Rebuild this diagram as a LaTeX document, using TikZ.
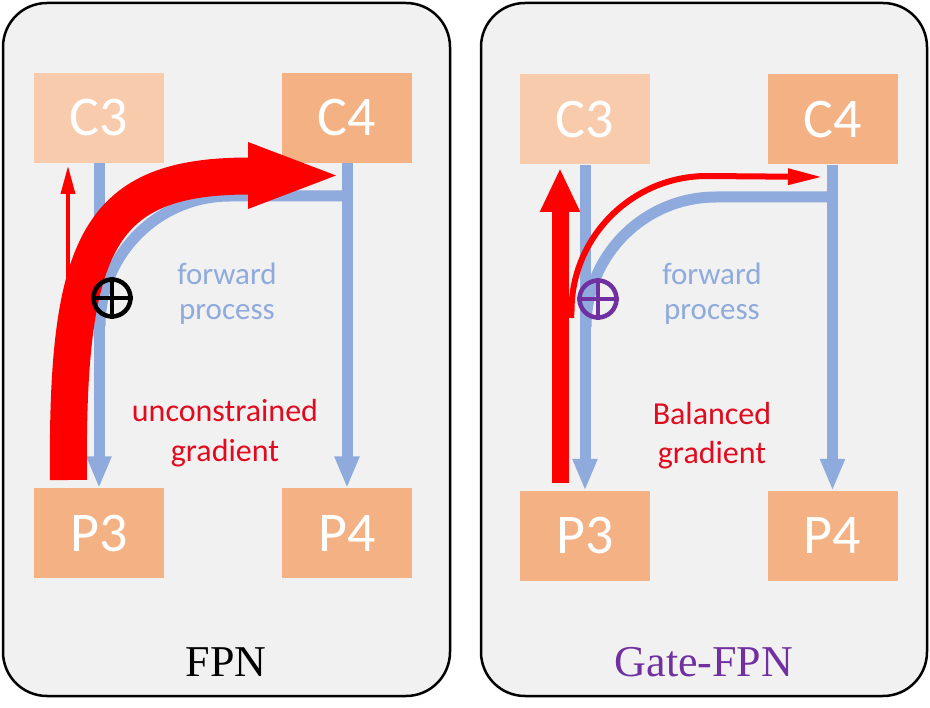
\documentclass[tikz,border=0pt]{standalone}
\usepackage{fontspec}
\setmainfont{Liberation Serif}
\newfontfamily\calib{Carlito}
\usetikzlibrary{arrows.meta}
\definecolor{panelgray}{HTML}{F1F1F1}
\definecolor{peach}{HTML}{F4B183}
\definecolor{lightpeach}{HTML}{F8CBAD}
\definecolor{fwdblue}{HTML}{8FAADC}
\definecolor{gradred}{RGB}{225,10,30}
\definecolor{gatepurple}{HTML}{7030A0}
\tikzset{
  panel/.style={draw=black, line width=2.5pt, fill=panelgray, rounded corners=44pt, inner sep=0},
  box/.style={rectangle, fill=peach, minimum width=130pt, minimum height=90pt, inner sep=0, text=white, font=\calib\fontsize{56}{60}\selectfont},
  lightbox/.style={box, fill=lightpeach},
  fwdline/.style={draw=fwdblue, line width=11pt},
  fwdarrow/.style={fwdline, -{Triangle[length=32pt,width=23pt]}},
  bluelbl/.style={text=fwdblue, font=\calib\fontsize{31}{36}\selectfont, inner sep=0, anchor=base},
  redlbl/.style={text=gradred, font=\calib\fontsize{32}{38}\selectfont, inner sep=0, anchor=base},
  title/.style={font=\fontsize{44}{48}\selectfont, inner sep=0},
  sumnode/.style={circle, draw, line width=4.5pt, minimum size=37pt, inner sep=0},
  sumcross/.style={line width=4pt}
}
\begin{document}
\begin{tikzpicture}[x=1pt,y=-1pt]
\useasboundingbox (0,0) rectangle (930,708);
% panels
\node[panel, minimum width=447pt, minimum height=693pt] (panelL) at (226.5,349.5) {};
\node[panel, minimum width=446pt, minimum height=693pt] (panelR) at (704,349.5) {};
% ---------- left panel ----------
\node[lightbox] (C3L) at (99,118) {C3};
\node[box] (C4L) at (347,118) {C4};
\node[box] (P3L) at (99,533.5) {P3};
\node[box] (P4L) at (347,533.5) {P4};
\draw[fwdarrow] (C3L.south) -- (P3L.north);
\draw[fwdarrow] (C4L.south) -- (P4L.north);
\coordinate (latL0) at (347,196);
\coordinate (latL1) at (230,196);
\coordinate (latL2) at (100,326);
\draw[fwdline] (latL0) -- (latL1) .. controls (158.2,196) and (100,254.2) .. (latL2);
\node[bluelbl] (fwdL1) at (227,285) {forward};
\node[bluelbl] (fwdL2) at (227,320) {process};
\node[redlbl] (gradL1) at (225,422) {unconstrained};
\node[redlbl] (gradL2) at (225,462) {gradient};
% thin red arrow to C3
\coordinate (thinL0) at (68,300);
\coordinate (thinL1) at (68,166);
\draw[red, line width=3.5pt, -{Triangle[length=28pt,width=14pt]}] (thinL0) -- (thinL1);
% big red curved arrow
\coordinate (bigL0) at (68.5,480);
\coordinate (bigL1) at (250,176);
\draw[red, line width=37pt] (bigL0) .. controls (66,240) and (100,176) .. (bigL1);
\fill[red] (248,142) -- (336,175.5) -- (248,209) -- cycle;
\node[sumnode, draw=black] (sumL) at (112,298) {};
\draw[black, sumcross] (sumL.north) -- (sumL.south) (sumL.west) -- (sumL.east);
\node[title, text=black] (titleL) at (226,662) {FPN};
% ---------- right panel ----------
\node[lightbox] (C3R) at (585,119.5) {C3};
\node[box] (C4R) at (832.5,119.5) {C4};
\node[box] (P3R) at (585,536) {P3};
\node[box] (P4R) at (832.5,536) {P4};
\draw[fwdarrow] (C3R.south) -- (P3R.north);
\draw[fwdarrow] (C4R.south) -- (P4R.north);
\coordinate (latR0) at (833,197);
\coordinate (latR1) at (716,197);
\coordinate (latR2) at (586,327);
\draw[fwdline] (latR0) -- (latR1) .. controls (644.2,197) and (586,255.2) .. (latR2);
\node[bluelbl] (fwdR1) at (712,285) {forward};
\node[bluelbl] (fwdR2) at (712,320) {process};
\node[redlbl] (gradR1) at (712,425) {Balanced};
\node[redlbl] (gradR2) at (712,464) {gradient};
% thick red straight arrow
\coordinate (thickR0) at (560,483);
\coordinate (thickR1) at (560,168);
\draw[red, line width=17pt, -{Triangle[length=44pt,width=37pt]}] (thickR0) -- (thickR1);
% thin red curved arrow
\coordinate (curR0) at (571,318);
\coordinate (curR1) at (707,176);
\coordinate (curR2) at (823,177);
\draw[red, line width=6pt, -{Triangle[length=35pt,width=15pt]}] (curR0) -- (571.5,311) .. controls (571.5,236.5) and (632.5,176) .. (curR1) -- (curR2);
\node[sumnode, draw=gatepurple] (sumR) at (598,299) {};
\draw[gatepurple, sumcross] (sumR.north) -- (sumR.south) (sumR.west) -- (sumR.east);
\node[title, text=gatepurple] (titleR) at (704,662) {Gate-FPN};
\end{tikzpicture}
\end{document}
